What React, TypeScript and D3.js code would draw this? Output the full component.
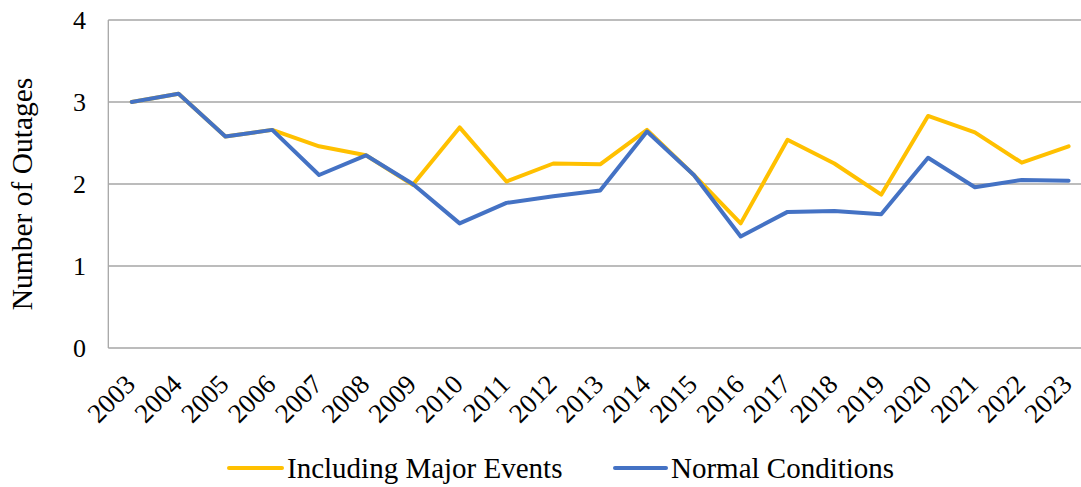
import React, { useEffect, useRef } from "react";
import * as d3 from "d3";

const years = ["2003","2004","2005","2006","2007","2008","2009","2010","2011","2012","2013","2014","2015","2016","2017","2018","2019","2020","2021","2022","2023"];
const includingMajor = [3.0,3.10,2.58,2.66,2.46,2.35,1.99,2.69,2.03,2.25,2.24,2.66,2.11,1.52,2.54,2.25,1.87,2.83,2.63,2.26,2.46];
const normalConditions = [3.0,3.10,2.58,2.66,2.11,2.35,2.0,1.52,1.77,1.85,1.92,2.64,2.11,1.36,1.66,1.67,1.63,2.32,1.96,2.05,2.04];
const yTicks = [0,1,2,3,4];
const seriesNames = ["Including Major Events","Normal Conditions"];
const colors = ["#FFC000","#4472C4"];

const W = 1081, H = 487;
const M = { left: 108.3, right: 1092, top: 20, bottom: 348 };
const FONT = "Liberation Serif, Times New Roman, Times, DejaVu Serif, serif";

export default function App() {
  const ref = useRef<SVGSVGElement>(null);
  useEffect(() => {
    const svg = d3.select(ref.current);
    svg.selectAll("*").remove();
    const x = d3.scaleBand().domain(years).range([M.left, M.right]);
    const y = d3.scaleLinear().domain([0, 4]).range([M.bottom, M.top]);

    const g = svg.append("g").style("font-family", FONT);
    g.selectAll("line.grid").data(yTicks).enter().append("line")
      .attr("x1", M.left).attr("x2", M.right)
      .attr("y1", d => y(d)).attr("y2", d => y(d))
      .attr("stroke", "#A6A6A6").attr("stroke-width", 1.3);
    g.append("line").attr("x1", M.left).attr("x2", M.left)
      .attr("y1", M.top).attr("y2", M.bottom)
      .attr("stroke", "#A6A6A6").attr("stroke-width", 1.3);
    g.selectAll("text.yt").data(yTicks).enter().append("text")
      .attr("x", 86).attr("y", d => y(d)).attr("dy", "0.35em")
      .attr("text-anchor", "end").style("font-size", "26px")
      .attr("fill", "#000").text(d => String(d));
    g.append("text")
      .attr("transform", `translate(32,194) rotate(-90)`)
      .attr("text-anchor", "middle").style("font-size", "29.5px")
      .attr("fill", "#000").text("Number of Outages");
    g.selectAll("text.xt").data(years).enter().append("text")
      .attr("transform", d => `translate(${(x(d) as number) + x.bandwidth() / 2 + 5},${M.bottom + 38}) rotate(-45)`)
      .attr("text-anchor", "end").style("font-size", "27px")
      .attr("fill", "#000").text(d => d);

    const line = d3.line<number>()
      .x((_, i) => (x(years[i]) as number) + x.bandwidth() / 2)
      .y(d => y(d));
    [includingMajor, normalConditions].forEach((s, i) => {
      g.append("path").attr("d", line(s) as string)
        .attr("fill", "none").attr("stroke", colors[i]).attr("stroke-width", 4)
        .attr("stroke-linejoin", "round").attr("stroke-linecap", "round");
    });

    const legendItems = [{ x1: 229, x2: 282, tx: 287 }, { x1: 615, x2: 666, tx: 671 }];
    legendItems.forEach((it, i) => {
      g.append("line").attr("x1", it.x1).attr("x2", it.x2).attr("y1", 468).attr("y2", 468)
        .attr("stroke", colors[i]).attr("stroke-width", 4).attr("stroke-linecap", "round");
      g.append("text").attr("x", it.tx).attr("y", 468).attr("dy", "0.35em")
        .style("font-size", "29px").attr("fill", "#000")
        .text(seriesNames[i]);
    });
  }, []);
  return (
    <svg ref={ref} width={W} height={H}
      style={{ position: "absolute", left: 0, top: 0, background: "#fff" }} />
  );
}
